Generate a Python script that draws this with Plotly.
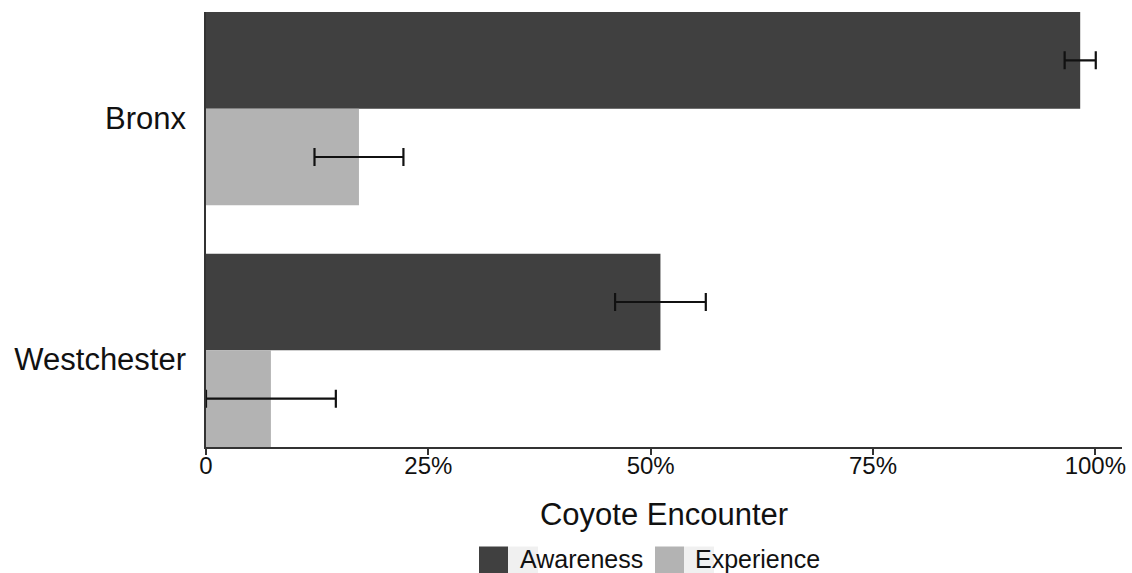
import plotly.graph_objects as go

# Survey results: share of respondents (proportion) with 95% error margins
regions = ["Westchester", "Bronx"]
awareness = [0.511, 0.983]
awareness_err = [0.051, 0.0175]
experience = [0.073, 0.172]
experience_err = [0.073, 0.050]

tick_vals = [0, 0.25, 0.5, 0.75, 1.0]
tick_text = ["0", "25%", "50%", "75%", "100%"]

series_names = ["Awareness", "Experience"]
series_colors = ["#404040", "#b3b3b3"]

W, H = 1132, 573
L, R, T, B = 206, 10, 12, 126
FONT = "Liberation Sans, Arial, sans-serif"
TXT = "#111111"


def px_x(px):
    return (px - L) / (W - L - R)


def px_y(py):
    return (H - B - py) / (H - T - B)


fig = go.Figure()

fig.add_trace(go.Bar(
    y=regions, x=awareness, orientation="h", name=series_names[0],
    marker=dict(color=series_colors[0], line=dict(width=0)),
    offset=0, width=0.4,
    error_x=dict(type="data", array=awareness_err, color="#111111",
                 thickness=2.2, width=9),
    showlegend=False,
))
fig.add_trace(go.Bar(
    y=regions, x=experience, orientation="h", name=series_names[1],
    marker=dict(color=series_colors[1], line=dict(width=0)),
    offset=-0.4, width=0.4,
    error_x=dict(type="data", array=experience_err, color="#111111",
                 thickness=2.2, width=9),
    showlegend=False,
))

# Legend drawn as key swatches plus labels below the axis title
shapes = []
annotations = []
legend_items = [(479, 518), (655, 693)]
for (kx, tx), name, col in zip(legend_items, series_names, series_colors):
    shapes.append(dict(type="rect", xref="paper", yref="paper",
                       x0=px_x(kx + 29), x1=px_x(kx + 59),
                       y0=px_y(575), y1=px_y(546.5),
                       fillcolor="#f0f0f0", line=dict(width=0), layer="below"))
    shapes.append(dict(type="rect", xref="paper", yref="paper",
                       x0=px_x(kx), x1=px_x(kx + 29),
                       y0=px_y(575), y1=px_y(546.5),
                       fillcolor=col, line=dict(width=0)))
    annotations.append(dict(text=name, xref="paper", yref="paper",
                            x=px_x(tx), y=px_y(559), xanchor="left",
                            yanchor="middle", showarrow=False,
                            font=dict(family=FONT, size=25, color=TXT)))

fig.update_layout(
    width=W, height=H,
    margin=dict(l=L, r=R, t=T, b=B, pad=0, autoexpand=False),
    paper_bgcolor="white", plot_bgcolor="white",
    barmode="overlay",
    showlegend=False,
    shapes=shapes,
    annotations=annotations,
    font=dict(family=FONT, color=TXT),
)

fig.update_xaxes(
    automargin=False,
    range=[0, 1.03],
    tickvals=tick_vals, ticktext=tick_text,
    ticks="outside", ticklen=6, tickwidth=1.5, tickcolor="#333333",
    showline=True, linecolor="#333333", linewidth=1.5,
    showgrid=False, zeroline=False,
    tickfont=dict(family=FONT, size=24, color=TXT),
    ticklabelstandoff=-10,
    title=dict(text="Coyote Encounter", standoff=26,
               font=dict(family=FONT, size=31, color=TXT)),
)
fig.update_yaxes(
    automargin=False,
    type="category", categoryorder="array", categoryarray=regions,
    range=[-0.4, 1.4],
    ticks="", showline=True, linecolor="#333333", linewidth=1.5,
    showgrid=False, zeroline=False,
    tickfont=dict(family=FONT, size=31, color=TXT),
    ticklabelstandoff=12, ticklabelshift=9,
)

fig.write_html("out.html")
